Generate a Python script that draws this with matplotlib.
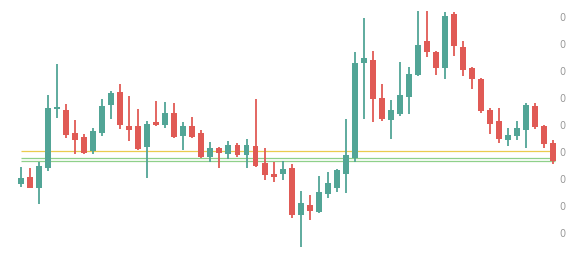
import numpy as np
import matplotlib
matplotlib.use("Agg")
import matplotlib.pyplot as plt
from matplotlib.ticker import FuncFormatter

UNIT = 1e-7  # prices are tiny, axis labels round to "0"

opens = [76.3, 83, 72.3, 92, 151, 150, 127, 123, 109.3, 127, 155, 168.3, 134.3, 134.3, 113.3,
         138, 135, 147, 124.3, 134.3, 127.3, 103.3, 112, 106.3, 114.7, 105.3, 114, 97, 86, 86,
         92.3, 45, 55, 47.7, 66, 72.3, 86.3, 102.3, 196.7, 200, 162, 139.7, 145.7, 163.3, 185,
         218.7, 207.7, 192.3, 246.3, 213, 192, 181, 150, 139, 120.3, 123.7, 130.3, 154, 134, 117.3]
highs = [93, 92, 98.3, 164.7, 196, 156, 140, 125.7, 131.7, 161, 169, 176, 164, 151, 139,
         159.3, 158, 157, 138, 143, 130, 118, 113.3, 119, 117, 121, 161, 112, 98.3, 99,
         96, 68.7, 65, 84, 88, 91.3, 141, 207.7, 242, 208.7, 176, 160, 198, 193, 249,
         249, 209.3, 248, 248, 219, 193, 182, 152, 152, 132, 138.7, 157, 157, 135, 120]
lows = [72.7, 71.7, 56.3, 89.3, 142.3, 122.3, 105.7, 106, 105.7, 124, 141.3, 131, 119.3, 110, 82.3,
        134, 132.3, 122.3, 110.3, 122.3, 102.3, 98.3, 92.3, 101.3, 102.7, 92.3, 93.3, 80.3, 77.7, 79.7,
        41.7, 13.3, 39.7, 47, 62.3, 67.7, 67.3, 97.7, 140.7, 137.7, 138.7, 120.7, 144.3, 146.3, 184,
        203.3, 185, 181.3, 204.3, 184, 171.3, 147.3, 126.3, 117.3, 114.3, 120.3, 112.3, 131.3, 112.3, 96]
closes = [82, 72.3, 94, 152.3, 153.3, 125, 120.3, 107, 129, 154.3, 167, 135, 130.3, 111, 136,
          135, 147, 123.3, 134, 123.3, 103.3, 112, 106.7, 115, 105.3, 115, 94, 85.3, 83.3, 91.3,
          45, 57, 49.3, 68, 77, 90, 105, 197, 202, 161.3, 141, 150, 165, 186, 215,
          208.3, 192.3, 244, 214.3, 190.3, 181.3, 149, 136.3, 121, 125, 132, 154.7, 132.7, 116.3, 99.3]

level_yellow = 108.7
levels_green = [101.7, 98.7]
tick_values = [27, 54, 81, 108, 135, 162, 189, 216, 243]

UP = "#52a596"
DOWN = "#e05a55"

o = np.array(opens) * UNIT
h = np.array(highs) * UNIT
l = np.array(lows) * UNIT
c = np.array(closes) * UNIT
x = np.arange(len(o))
up = c >= o
colors = np.where(up, UP, DOWN)

W, H = 584, 258
fig = plt.figure(figsize=(W / 100, H / 100), dpi=100)
ax = fig.add_axes([0, 0, 556 / W, 1])

ax.hlines(level_yellow * UNIT, x[0], x[-1] + 0.2, color="#ebcb4e", lw=0.9, zorder=1)
for g in levels_green:
    ax.hlines(g * UNIT, x[0], x[-1] + 0.2, color="#8fd08a", lw=0.9, zorder=1)

ax.vlines(x, l, h, colors=colors, lw=1.3, zorder=2)
body_bottom = np.minimum(o, c)
body_h = np.maximum(np.abs(c - o), 1.5 * UNIT)
ax.bar(x, body_h, bottom=body_bottom, width=0.66, color=colors, zorder=3, linewidth=0)

px = 9.02
ax.set_xlim(-21 / px, (556 - 21) / px)
ax.set_ylim(2 * UNIT, 260 * UNIT)

ax.yaxis.tick_right()
ax.set_yticks(np.array(tick_values) * UNIT)
ax.yaxis.set_major_formatter(FuncFormatter(lambda v, _: f"{v:.0f}"))
ax.tick_params(axis="y", length=0, pad=2.5, labelsize=7, labelcolor="#9a9a9a")
ax.set_xticks([])
for s in ax.spines.values():
    s.set_visible(False)

fig.savefig("out.png", dpi=100)
